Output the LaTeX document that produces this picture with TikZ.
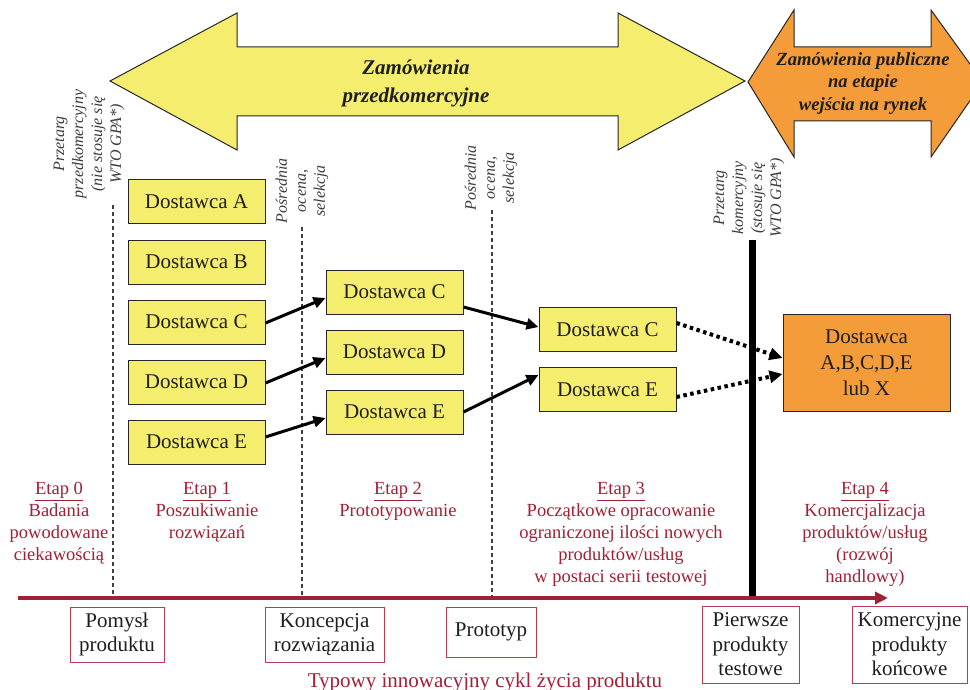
\documentclass[tikz,border=0pt]{standalone}
\usepackage{fontspec}
\setmainfont{Liberation Serif}
\usetikzlibrary{arrows.meta,calc}
\definecolor{yel}{RGB}{245,237,110}
\definecolor{ora}{RGB}{244,155,58}
\definecolor{dred}{RGB}{160,32,52}
\definecolor{bred}{RGB}{185,60,80}
\definecolor{txt}{RGB}{30,30,30}
\definecolor{gtxt}{RGB}{60,60,60}
\begin{document}
\begin{tikzpicture}[x=1pt,y=-1pt,
  ybox/.style={draw=black!85,line width=1pt,fill=yel,minimum width=137pt,minimum height=44pt,inner sep=0pt,font=\fontsize{21}{24}\selectfont,text=txt},
  obox/.style={draw=black!85,line width=1pt,fill=ora,minimum width=167pt,minimum height=97pt,inner sep=0pt,align=center,font=\fontsize{21}{26}\selectfont,text=txt},
  pbox/.style={draw=bred,line width=1pt,fill=white,inner sep=0pt,align=center,font=\fontsize{21}{24.5}\selectfont,text=txt},
  rot/.style={rotate=90,align=center,inner sep=0pt,text=gtxt,font=\itshape\fontsize{16}{19}\selectfont},
  etap/.style={align=center,anchor=north,inner sep=0pt,text=dred,font=\fontsize{18.5}{22}\selectfont},
  bigarrow/.style={draw=black!85,line width=1pt},
  sarrow/.style={line width=3pt,-{Triangle[length=12pt,width=11pt]}},
  darrow/.style={line width=4pt,dash pattern=on 3.5pt off 3.5pt,-{Triangle[length=13pt,width=12pt]}},
  vdash/.style={line width=1.2pt,black!75,dash pattern=on 4pt off 3pt},
  arrtext/.style={align=center,anchor=north,inner sep=0pt,text=txt}
]
\useasboundingbox (0,0) rectangle (970,690);
\clip (0,0) rectangle (970,690);

% big arrows
\draw[bigarrow,fill=yel] (110,81) -- (237,13) -- (237,47) -- (618,47) -- (618,13) -- (745,81)
  -- (618,150) -- (618,116) -- (237,116) -- (237,150) -- cycle;
\draw[bigarrow,fill=ora] (748,82) -- (794,10) -- (794,47) -- (931,47) -- (931,10) -- (983,82)
  -- (931,157) -- (931,121) -- (794,121) -- (794,157) -- cycle;
\node[arrtext,font=\bfseries\itshape\fontsize{21}{28}\selectfont] (ytext) at (416,60) {Zamówienia\\przedkomercyjne};
\node[arrtext,font=\bfseries\itshape\fontsize{18.6}{22.5}\selectfont] (otext) at (863,52) {Zamówienia publiczne\\na etapie\\wejścia na rynek};

% rotated labels
\node[rot] (r0) at (89,144) {Przetarg\\przedkomercyjny\\(nie stosuje się\\WTO GPA*)};
\node[rot] (r1) at (302,191) {Pośrednia\\ocena,\\selekcja};
\node[rot] (r2) at (491,178) {Pośrednia\\ocena,\\selekcja};
\node[rot] (r3) at (749,198) {Przetarg\\komercyjny\\(stosuje się\\WTO GPA*)};

% vertical separators
\coordinate (v0t) at (113,205); \coordinate (v0b) at (113,597);
\coordinate (v1t) at (302,227); \coordinate (v1b) at (302,597);
\coordinate (v2t) at (492,210); \coordinate (v2b) at (492,597);
\coordinate (v3t) at (752,240); \coordinate (v3b) at (752,598);
\draw[vdash] (v0t) -- (v0b);
\draw[vdash] (v1t) -- (v1b);
\draw[vdash] (v2t) -- (v2b);
\draw[line width=7pt,black] (v3t) -- (v3b);

% supplier boxes
\node[ybox] (a1) at (196.5,202) {Dostawca A};
\node[ybox] (b1) at (196.5,262) {Dostawca B};
\node[ybox] (c1) at (196.5,322) {Dostawca C};
\node[ybox] (d1) at (196.5,382) {Dostawca D};
\node[ybox] (e1) at (196.5,442) {Dostawca E};
\node[ybox] (c2) at (394.5,292) {Dostawca C};
\node[ybox] (d2) at (394.5,352) {Dostawca D};
\node[ybox] (e2) at (394.5,412) {Dostawca E};
\node[ybox] (c3) at (607.5,329.5) {Dostawca C};
\node[ybox] (e3) at (607.5,389.5) {Dostawca E};
\node[obox] (x4) at (866.5,362.5) {Dostawca\\A,B,C,D,E\\lub X};

% connectors
\draw[sarrow] ([yshift=-1pt]c1.east) -- ([yshift=-6pt]c2.west);
\draw[sarrow] ([yshift=-1pt]d1.east) -- ([yshift=-6pt]d2.west);
\draw[sarrow] ([yshift=5pt]e1.east) -- ([yshift=-6pt]e2.west);
\draw[sarrow] ([yshift=-15pt]c2.east) -- ([yshift=2.5pt]c3.west);
\draw[sarrow] (e2.east) -- ([yshift=14.5pt]e3.west);
\draw[darrow] ([yshift=6.5pt]c3.east) -- ([yshift=4.5pt]x4.west);
\draw[darrow] ([yshift=-7.5pt]e3.east) -- ([yshift=-11.5pt]x4.west);

% stage texts
\node[etap] (s0) at (59,482) {\underline{Etap 0}\\Badania\\powodowane\\ciekawością};
\node[etap] (s1) at (207,482) {\underline{Etap 1}\\Poszukiwanie\\rozwiązań};
\node[etap] (s2) at (398,482) {\underline{Etap 2}\\Prototypowanie};
\node[etap] (s3) at (621,482) {\underline{Etap 3}\\Początkowe opracowanie\\ograniczonej ilości nowych\\produktów/usług\\w postaci serii testowej};
\node[etap] (s4) at (865,482) {\underline{Etap 4}\\Komercjalizacja\\produktów/usług\\(rozwój\\handlowy)};

% time axis
\coordinate (ax0) at (18,598);
\coordinate (ax1) at (888,598);
\draw[line width=3.5pt,dred,-{Triangle[length=13pt,width=12pt]}] (ax0) -- (ax1);

% product boxes
\node[pbox,minimum width=94pt,minimum height=55pt] (p0) at (117,634.5) {Pomysł\\produktu};
\node[pbox,minimum width=119pt,minimum height=55pt] (p1) at (324.5,634.5) {Koncepcja\\rozwiązania};
\node[pbox,minimum width=90pt,minimum height=50pt] (p2) at (491,632) {Prototyp};
\node[pbox,minimum width=97pt,minimum height=77pt] (p3) at (750.5,644.5) {Pierwsze\\produkty\\testowe};
\node[pbox,minimum width=115pt,minimum height=77pt] (p4) at (909.5,644.5) {Komercyjne\\produkty\\końcowe};

\node[anchor=base,inner sep=0pt,text=dred,font=\fontsize{21}{24}\selectfont] (title) at (485,687) {Typowy innowacyjny cykl życia produktu};
\end{tikzpicture}
\end{document}
